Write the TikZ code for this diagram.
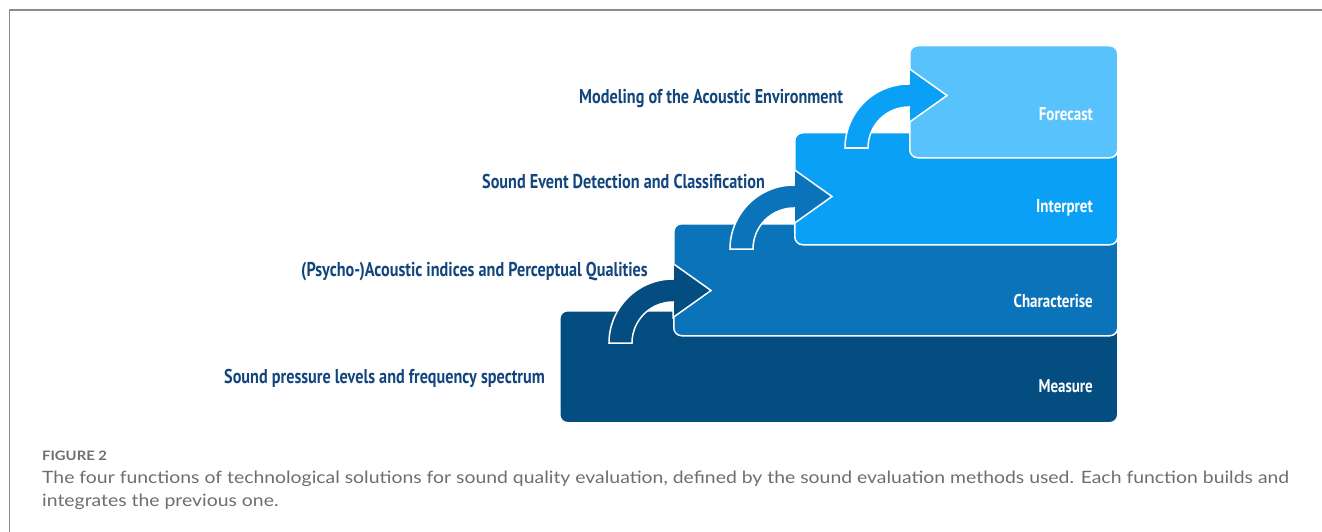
\documentclass[tikz,border=0pt]{standalone}
\usepackage{fontspec}
\setmainfont{Lato}
\newfontfamily\condfont[FakeStretch=0.81]{PT Sans}
\newfontfamily\capfont[FakeStretch=1.14]{Lato}
\definecolor{cMeasure}{RGB}{3,77,129}
\definecolor{cChar}{RGB}{10,115,186}
\definecolor{cInterp}{RGB}{10,160,246}
\definecolor{cFore}{RGB}{88,194,253}
\definecolor{labelblue}{RGB}{20,70,126}
\definecolor{framegray}{RGB}{140,140,140}
\definecolor{capgray}{RGB}{110,110,110}
\tikzset{
  stepbox/.style={draw=white, line width=1.5pt, rounded corners=8pt, anchor=north west, inner sep=0pt},
  arrowshape/.style={draw=white, line width=1.5pt, line join=miter},
  steplabel/.style={font=\condfont\bfseries\fontsize{18.5}{22}\selectfont, text=white, anchor=east, inner sep=0pt},
  methodlabel/.style={font=\condfont\bfseries\fontsize{20}{24}\selectfont, text=labelblue, anchor=west, inner sep=0pt},
  captext/.style={font=\capfont\fontsize{17}{20}\selectfont, text=capgray, anchor=west, inner sep=0pt}
}
\newcommand\stepArrow[3]{%
  \filldraw[arrowshape, fill=#3] (#1-64,#2) arc[start angle=180,end angle=270,radius=64]
    -- (#1,#2-79.5) -- (#1+38,#2-52.5) -- (#1,#2-25.5) -- (#1,#2-41)
    arc[start angle=270,end angle=180,radius=41] -- cycle;}
\begin{document}
\begin{tikzpicture}[x=1pt,y=-1pt]
\useasboundingbox (0,0) rectangle (1322,532);
\draw[framegray, line width=1.5pt] (9.5,532) -- (9.5,10) -- (1322,10);
% boxes
\node[stepbox, fill=cMeasure, minimum width=558, minimum height=112] (measure) at (559,310) {};
\node[stepbox, fill=cChar, minimum width=444, minimum height=112] (characterise) at (673,223) {};
\node[stepbox, fill=cInterp, minimum width=323, minimum height=112] (interpret) at (794,132) {};
\node[stepbox, fill=cFore, minimum width=208, minimum height=112] (forecast) at (909,45) {};
% arrows
\stepArrow{673}{343}{cMeasure}
\stepArrow{794}{249}{cChar}
\stepArrow{909}{148}{cInterp}
% box labels
\node[steplabel] (lmeasure) at (1093,386) {Measure};
\node[steplabel] (lchar) at (1093,301) {Characterise};
\node[steplabel] (linterp) at (1093,208) {Interpret};
\node[steplabel] (lfore) at (1093,114) {Forecast};
% method labels
\node[methodlabel] (m1) at (224,378) {Sound pressure levels and frequency spectrum};
\node[methodlabel] (m2) at (301,272) {(Psycho-)Acoustic indices and Perceptual Qualities};
\node[methodlabel] (m3) at (482,181) {Sound Event Detection and Classification};
\node[methodlabel] (m4) at (579,99) {Modeling of the Acoustic Environment};
% caption
\node[anchor=west, inner sep=0pt, text=capgray, font=\capfont\bfseries\fontsize{13}{15}\selectfont] (figlabel) at (42,456) {FIGURE 2};
\node[captext] (cap1) at (42,479) {The four functions of technological solutions for sound quality evaluation, defined by the sound evaluation methods used. Each function builds and};
\node[captext] (cap2) at (42,502) {integrates the previous one.};
\end{tikzpicture}
\end{document}
